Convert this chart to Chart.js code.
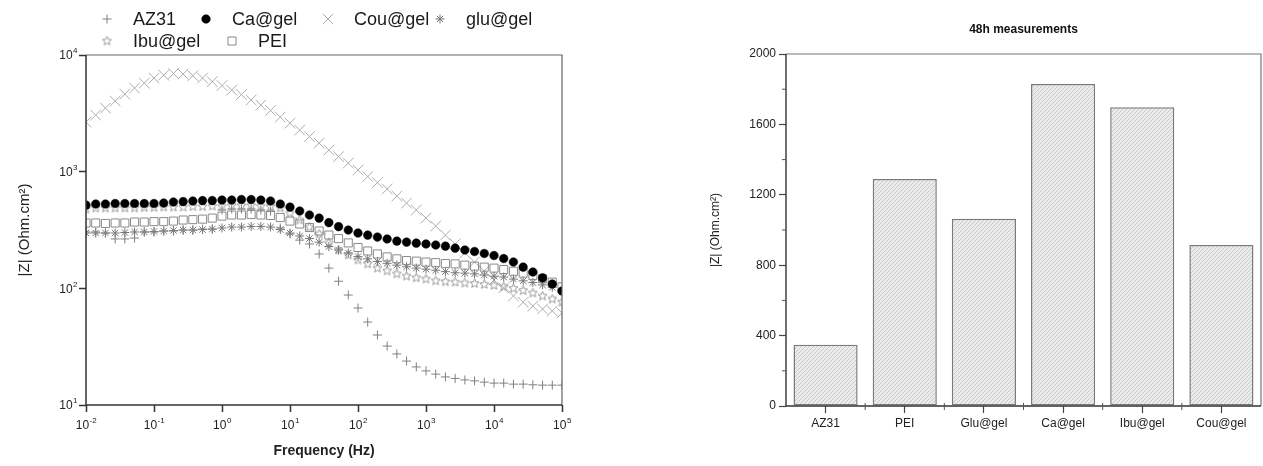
<!DOCTYPE html>
<html>
<head>
<meta charset="utf-8">
<script src="https://cdn.jsdelivr.net/npm/chart.js@4.4.1/dist/chart.umd.min.js"></script>
<style>
html, body { margin: 0; padding: 0; background: #fff; }
#left { position: absolute; left: 0; top: 0; width: 600px; height: 466px; }
#right { position: absolute; left: 640px; top: 0; width: 623px; height: 466px; }
</style>
</head>
<body>
<div id="left"><canvas id="bode"></canvas></div>
<div id="right"><canvas id="bars"></canvas></div>
<script>
// Bode plot, |Z| vs frequency (7 points per decade)
var freq = [0.01, 0.01389, 0.01931, 0.02683, 0.03728, 0.05179, 0.07197,
            0.1, 0.1389, 0.1931, 0.2683, 0.3728, 0.5179, 0.7197,
            1, 1.389, 1.931, 2.683, 3.728, 5.179, 7.197,
            10, 13.89, 19.31, 26.83, 37.28, 51.79, 71.97,
            100, 138.9, 193.1, 268.3, 372.8, 517.9, 719.7,
            1000, 1389, 1931, 2683, 3728, 5179, 7197,
            10000, 13890, 19310, 26830, 37280, 51790, 71970,
            100000];
var az31 = [304, 304, 298, 265, 265, 270, 304, 304, 310, 310,
            316, 316, 322, 322, 469, 478, 478, 478, 469, 460,
            329, 292, 259, 240, 197, 149, 115, 87.6, 67.8, 51.4,
            39.8, 32, 27.4, 23.8, 21.2, 19.6, 18.4, 17.4, 16.9, 16.4,
            16.1, 15.7, 15.4, 15.4, 15.1, 15.1, 14.9, 14.8, 14.8, 14.8];
var caGel = [517, 528, 528, 533, 533, 533, 533, 533, 538, 549,
             554, 560, 565, 565, 571, 571, 577, 577, 571, 560,
             528, 497, 460, 425, 400, 366, 338, 316, 298, 286,
             275, 265, 254, 249, 244, 240, 235, 230, 221, 213,
             207, 199, 191, 180, 168, 152, 138, 123, 109, 95];
var couGel = [2660, 3055, 3508, 4027, 4623, 5204, 5741, 6339, 6722, 6934,
              6859, 6650, 6339, 5916, 5470, 5000, 4580, 4110, 3724, 3343,
              2939, 2608, 2271, 1998, 1758, 1531, 1346, 1185, 1032, 908,
              806, 710, 618, 538, 469, 400, 342, 286, 240, 201,
              168, 141, 118, 101, 86, 76, 70.5, 66.5, 64, 61.4];
var gluGel = [298, 298, 298, 298, 301, 304, 304, 307, 310, 313,
              316, 316, 319, 322, 329, 335, 335, 339, 339, 335,
              319, 298, 281, 267, 249, 228, 213, 201, 187, 179,
              170, 164, 158, 153, 149, 146, 143, 139, 136, 135,
              133, 130, 127, 125, 120, 116, 112, 107, 102, 93];
var ibuGel = [478, 488, 488, 488, 488, 488, 492, 492, 497, 497,
              497, 502, 502, 507, 507, 512, 512, 512, 507, 502,
              488, 442, 385, 335, 292, 245, 213, 193, 175, 162,
              149, 141, 133, 127, 123, 120, 116, 114, 113, 111,
              110, 108, 106, 103, 100, 95.8, 91.2, 85.9, 81, 76.3];
var pei = [363, 363, 360, 363, 363, 370, 370, 373, 373, 377,
           385, 388, 392, 400, 416, 425, 425, 429, 425, 421,
           404, 377, 356, 332, 310, 286, 267, 245, 224, 209,
           197, 186, 179, 173, 171, 168, 166, 163, 162, 158,
           155, 152, 149, 145, 140, 135, 129, 121, 113, 103];
var xTicks = [0.01, 0.1, 1, 10, 100, 1000, 10000, 100000];
var xExp = ['-2', '-1', '0', '1', '2', '3', '4', '5'];
var yTicks = [10, 100, 1000, 10000];
var yExp = ['1', '2', '3', '4'];

// 48h bar chart
var barLabels = ['AZ31', 'PEI', 'Glu@gel', 'Ca@gel', 'Ibu@gel', 'Cou@gel'];
var barValues = [348, 1290, 1064, 1830, 1697, 915];
var barMinor = [200, 600, 1000, 1400, 1800];

var FONT = "Arial, 'Liberation Sans', sans-serif";
Chart.defaults.font.family = FONT;

function pts(vals) {
  return vals.map(function (v, i) { return { x: freq[i], y: v }; });
}

function starImage(size, color) {
  var c = document.createElement('canvas');
  c.width = size; c.height = size;
  var g = c.getContext('2d');
  var cx = size / 2, cy = size / 2, R = size / 2 - 0.8, r = R * 0.45;
  g.beginPath();
  for (var k = 0; k < 10; k++) {
    var a = -Math.PI / 2 + k * Math.PI / 5;
    var rr = k % 2 ? r : R;
    g.lineTo(cx + rr * Math.cos(a), cy + rr * Math.sin(a));
  }
  g.closePath();
  g.strokeStyle = color; g.lineWidth = 0.9;
  g.stroke();
  return c;
}

function drawPow(ctx, exp, x, y, align) {
  ctx.font = '12px ' + FONT;
  var wb = ctx.measureText('10').width;
  ctx.font = '8px ' + FONT;
  var we = ctx.measureText(exp).width;
  var x0 = align === 'right' ? x - wb - we : x - (wb + we) / 2;
  ctx.textAlign = 'left';
  ctx.textBaseline = 'middle';
  ctx.fillStyle = '#222';
  ctx.font = '12px ' + FONT;
  ctx.fillText('10', x0, y);
  ctx.font = '8px ' + FONT;
  ctx.fillText(exp, x0 + wb + 0.5, y - 5);
}

var legendPos = [[107, 19], [206, 19], [328, 19], [440, 19], [107, 41], [232, 41]];

var bodeDecor = {
  id: 'bodeDecor',
  afterDraw: function (chart) {
    var ctx = chart.ctx, ca = chart.chartArea;
    var xs = chart.scales.x, ys = chart.scales.y;
    ctx.save();
    // frame
    ctx.lineWidth = 1.2; ctx.strokeStyle = '#666';
    ctx.beginPath();
    ctx.moveTo(ca.left, ca.top); ctx.lineTo(ca.right, ca.top); ctx.lineTo(ca.right, ca.bottom);
    ctx.stroke();
    ctx.lineWidth = 1.5; ctx.strokeStyle = '#333';
    ctx.beginPath();
    ctx.moveTo(ca.left, ca.top); ctx.lineTo(ca.left, ca.bottom); ctx.lineTo(ca.right, ca.bottom);
    ctx.stroke();
    // tick labels
    xTicks.forEach(function (v, i) { drawPow(ctx, xExp[i], xs.getPixelForValue(v), ca.bottom + 21, 'center'); });
    yTicks.forEach(function (v, i) { drawPow(ctx, yExp[i], ca.left - 9, ys.getPixelForValue(v) + 1, 'right'); });
    // axis titles
    ctx.fillStyle = '#222';
    ctx.textAlign = 'center'; ctx.textBaseline = 'middle';
    ctx.font = 'bold 14px ' + FONT;
    ctx.fillText('Frequency (Hz)', (ca.left + ca.right) / 2, 451);
    ctx.save();
    ctx.translate(25, (ca.top + ca.bottom) / 2);
    ctx.rotate(-Math.PI / 2);
    ctx.font = '15px ' + FONT;
    ctx.fillText('|Z| (Ohm.cm\u00B2)', 0, 0);
    ctx.restore();
    // legend
    chart.data.datasets.forEach(function (ds, i) {
      var p = legendPos[i];
      ctx.save();
      ctx.fillStyle = ds.backgroundColor; ctx.strokeStyle = ds.borderColor; ctx.lineWidth = ds.borderWidth;
      Chart.helpers.drawPoint(ctx, { pointStyle: ds.pointStyle, radius: ds.pointRadius, rotation: 0, borderWidth: ds.borderWidth }, p[0], p[1]);
      ctx.restore();
      ctx.fillStyle = '#1a1a1a';
      ctx.font = '18px ' + FONT;
      ctx.textAlign = 'left'; ctx.textBaseline = 'middle';
      ctx.fillText(ds.label, p[0] + 26, p[1] + 1);
    });
    ctx.restore();
  }
};

new Chart(document.getElementById('bode'), {
  type: 'scatter',
  data: {
    datasets: [
      { label: 'AZ31', data: pts(az31), pointStyle: 'cross', pointRadius: 4.5, borderWidth: 1, borderColor: '#808080', backgroundColor: '#808080', order: 2 },
      { label: 'Ca@gel', data: pts(caGel), pointStyle: 'circle', pointRadius: 4.3, borderWidth: 0.5, borderColor: '#000', backgroundColor: '#000', order: 0 },
      { label: 'Cou@gel', data: pts(couGel), pointStyle: 'crossRot', pointRadius: 7.5, borderWidth: 1, borderColor: '#acacac', backgroundColor: '#acacac', order: 5 },
      { label: 'glu@gel', data: pts(gluGel), pointStyle: 'star', pointRadius: 4.5, borderWidth: 1, borderColor: '#767676', backgroundColor: '#767676', order: 3 },
      { label: 'Ibu@gel', data: pts(ibuGel), pointStyle: starImage(11, '#8c8c8c'), pointRadius: 5, borderWidth: 1, borderColor: '#8c8c8c', backgroundColor: '#8c8c8c', order: 4 },
      { label: 'PEI', data: pts(pei), pointStyle: 'rect', pointRadius: 5.7, borderWidth: 1, borderColor: '#8a8a8a', backgroundColor: 'rgba(255,255,255,0)', order: 1 }
    ]
  },
  options: {
    animation: false,
    responsive: true,
    maintainAspectRatio: false,
    events: [],
    layout: { padding: { top: 55, right: 38, left: 0, bottom: 0 } },
    plugins: { legend: { display: false }, tooltip: { enabled: false } },
    scales: {
      x: {
        type: 'logarithmic', min: 0.01, max: 100000,
        afterBuildTicks: function (s) { s.ticks = xTicks.map(function (v) { return { value: v }; }); },
        afterFit: function (s) { s.height = 61; },
        ticks: { display: false },
        grid: { drawOnChartArea: false, drawTicks: true, tickLength: 7, tickColor: '#333', tickWidth: 1.5 },
        border: { display: false }
      },
      y: {
        type: 'logarithmic', min: 10, max: 10000,
        afterBuildTicks: function (s) { s.ticks = yTicks.map(function (v) { return { value: v }; }); },
        afterFit: function (s) { s.width = 86; },
        ticks: { display: false },
        grid: { drawOnChartArea: false, drawTicks: true, tickLength: 7, tickColor: '#333', tickWidth: 1.5 },
        border: { display: false }
      }
    }
  },
  plugins: [bodeDecor]
});

// hatched fill for the bars
var barCanvas = document.getElementById('bars');
function hatchPattern(ctx) {
  var c = document.createElement('canvas');
  c.width = 4; c.height = 4;
  var g = c.getContext('2d');
  g.fillStyle = '#ececec'; g.fillRect(0, 0, 4, 4);
  g.strokeStyle = '#c4c4c4'; g.lineWidth = 0.9;
  g.beginPath();
  g.moveTo(0, 4); g.lineTo(4, 0);
  g.moveTo(-1, 1); g.lineTo(1, -1);
  g.moveTo(3, 5); g.lineTo(5, 3);
  g.stroke();
  return ctx.createPattern(c, 'repeat');
}

var barDecor = {
  id: 'barDecor',
  afterDraw: function (chart) {
    var ctx = chart.ctx, ca = chart.chartArea;
    var xs = chart.scales.x, ys = chart.scales.y;
    ctx.save();
    ctx.lineWidth = 1.2; ctx.strokeStyle = '#777';
    ctx.beginPath();
    ctx.moveTo(ca.left, ca.top); ctx.lineTo(ca.right, ca.top); ctx.lineTo(ca.right, ca.bottom);
    ctx.stroke();
    ctx.lineWidth = 1.4; ctx.strokeStyle = '#333';
    ctx.beginPath();
    ctx.moveTo(ca.left, ca.top); ctx.lineTo(ca.left, ca.bottom); ctx.lineTo(ca.right, ca.bottom);
    ctx.stroke();
    // minor ticks
    ctx.lineWidth = 1; ctx.strokeStyle = '#555';
    ctx.beginPath();
    barMinor.forEach(function (v) {
      var y = ys.getPixelForValue(v);
      ctx.moveTo(ca.left - 4, y); ctx.lineTo(ca.left, y);
    });
    for (var i = 0; i < barLabels.length - 1; i++) {
      var x = (xs.getPixelForValue(i) + xs.getPixelForValue(i + 1)) / 2;
      ctx.moveTo(x, ca.bottom - 3); ctx.lineTo(x, ca.bottom + 4);
    }
    ctx.stroke();
    // title
    ctx.fillStyle = '#111';
    ctx.textAlign = 'center'; ctx.textBaseline = 'middle';
    ctx.font = 'bold 12px ' + FONT;
    ctx.fillText('48h measurements', (ca.left + ca.right) / 2, 30);
    // y title
    ctx.save();
    ctx.translate(76, (ca.top + ca.bottom) / 2);
    ctx.rotate(-Math.PI / 2);
    ctx.font = '12px ' + FONT;
    ctx.fillStyle = '#222';
    ctx.fillText('|Z| (Ohm.cm\u00B2)', 0, 0);
    ctx.restore();
    ctx.restore();
  }
};

new Chart(barCanvas, {
  type: 'bar',
  data: {
    labels: barLabels,
    datasets: [{
      data: barValues,
      backgroundColor: hatchPattern(barCanvas.getContext('2d')),
      borderColor: '#7a7a7a',
      borderWidth: 1.5,
      borderSkipped: false,
      barPercentage: 0.81,
      categoryPercentage: 1
    }]
  },
  options: {
    animation: false,
    responsive: true,
    maintainAspectRatio: false,
    events: [],
    layout: { padding: { top: 54, right: 2, left: 0, bottom: 0 } },
    plugins: { legend: { display: false }, tooltip: { enabled: false } },
    scales: {
      x: {
        afterFit: function (s) { s.height = 60; },
        ticks: { color: '#222', font: { size: 12 }, padding: 3, maxRotation: 0 },
        grid: { offset: false, drawOnChartArea: false, drawTicks: true, tickLength: 7, tickColor: '#444', tickWidth: 1.2 },
        border: { display: false }
      },
      y: {
        min: 0, max: 2000,
        afterFit: function (s) { s.width = 146; },
        ticks: { stepSize: 400, color: '#222', font: { size: 12 }, padding: 3,
                 callback: function (v) { return String(v); } },
        grid: { drawOnChartArea: false, drawTicks: true, tickLength: 7, tickColor: '#444', tickWidth: 1.2 },
        border: { display: false }
      }
    }
  },
  plugins: [barDecor]
});
</script>
</body>
</html>
